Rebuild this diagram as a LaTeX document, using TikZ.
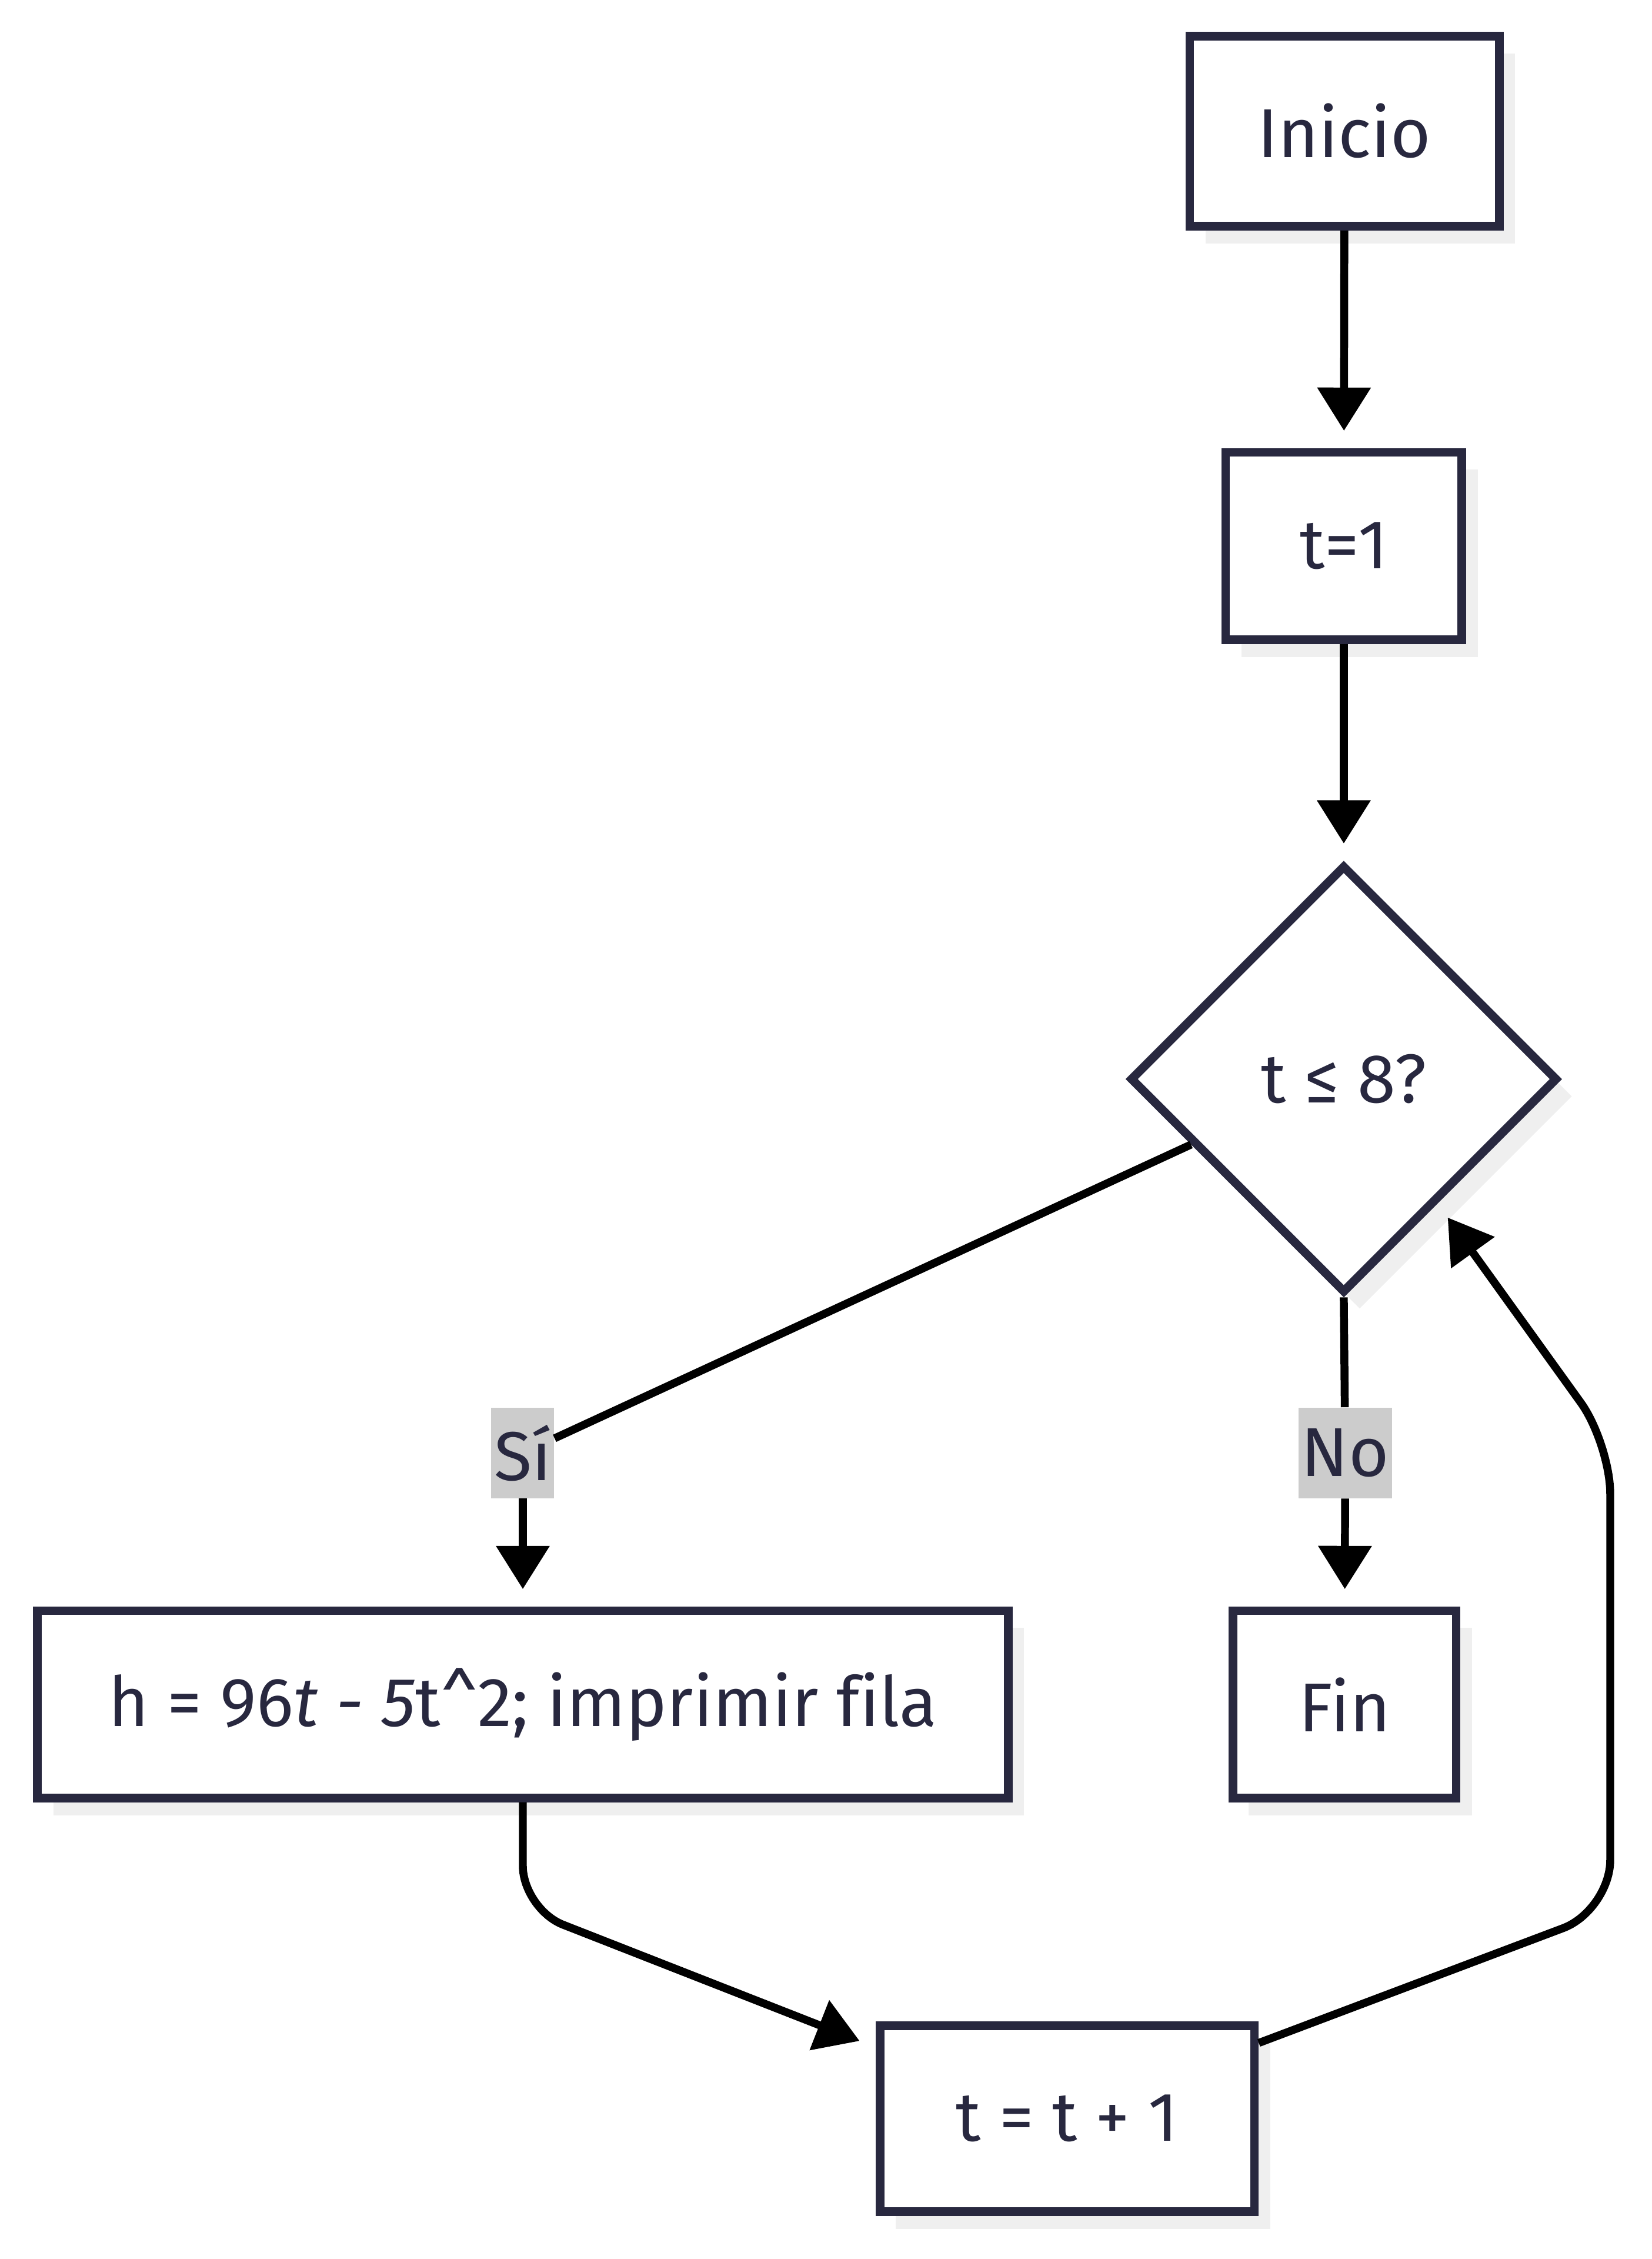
\documentclass[tikz,border=0pt]{standalone}
\usepackage{fontspec}
\setmainfont[Ligatures=NoCommon]{Fira Sans}
\usepackage{tikz}
\usetikzlibrary{shapes.geometric, arrows.meta, shadows, calc}
\definecolor{inkline}{HTML}{28283F}
\definecolor{shadowgray}{HTML}{EFEFEF}
\definecolor{labelgray}{HTML}{CCCCCC}
\tikzset{
  stepbox/.style={draw=inkline, line width=6pt, fill=white, text=inkline, inner sep=0pt,
    drop shadow={shadow xshift=11pt, shadow yshift=-12pt, fill=shadowgray, opacity=1}},
  decision/.style={stepbox, diamond, minimum width=297pt, minimum height=297pt},
  edgelabel/.style={fill=labelgray, text=inkline, inner xsep=2pt, inner ysep=0pt, minimum height=63pt},
  flow/.style={line width=5.5pt, black},
  flowarrow/.style={flow, -{Triangle[length=30pt, width=36pt]}, shorten >=12pt},
}

\begin{document}
\begin{tikzpicture}[x=1pt, y=-1pt, font=\fontsize{48}{57}\selectfont]
        \useasboundingbox (0,0) rectangle (1147,1568);

        % Steps
        \node[stepbox, minimum width=215pt, minimum height=132pt] (start) at (933.5,91) {Inicio};
        \node[stepbox, minimum width=164pt, minimum height=130pt] (init) at (933,379) {t=1};
        \node[decision] (cond) at (933,749) {t ≤ 8?};
        \node[stepbox, minimum width=674pt, minimum height=130pt] (calc) at (363,1183) {h = 96\textit{t - 5}t\textasciicircum 2; imprimir fila};
        \node[stepbox, minimum width=155pt, minimum height=130pt] (fin) at (933.5,1183) {Fin};
        \node[stepbox, minimum width=260pt, minimum height=129pt] (inc) at (741,1470.5) {t = t + 1};

        % Branch labels
        \node[edgelabel] (si) at (363,1008.5) {Sí};
        \node[edgelabel] (no) at (934,1008.5) {No};

        % Flow
        \draw[flowarrow] (start) -- (init);
        \draw[flowarrow] (init) -- (cond);
        \coordinate (condsw) at ($(cond.west)!0.3!(cond.south)$);
        \draw[flow] (condsw) -- (si);
        \draw[flowarrow] (si) -- (calc);
        \draw[flow] (cond.south) -- (no);
        \draw[flowarrow] (no) -- (fin);
        \draw[flowarrow, rounded corners=30pt] (calc.south) -- ++(0,74) -- ([yshift=-18pt]inc.north west);

        % Loop back
        \coordinate (loopbot) at (1118,1326);
        \coordinate (looptop) at (1118,1002);
        \draw[flowarrow, rounded corners=35pt] ([yshift=-15pt]inc.north east) -- (loopbot) -- (looptop) -- ($(cond.east)!0.57!(cond.south)$);
    \end{tikzpicture}
\end{document}
